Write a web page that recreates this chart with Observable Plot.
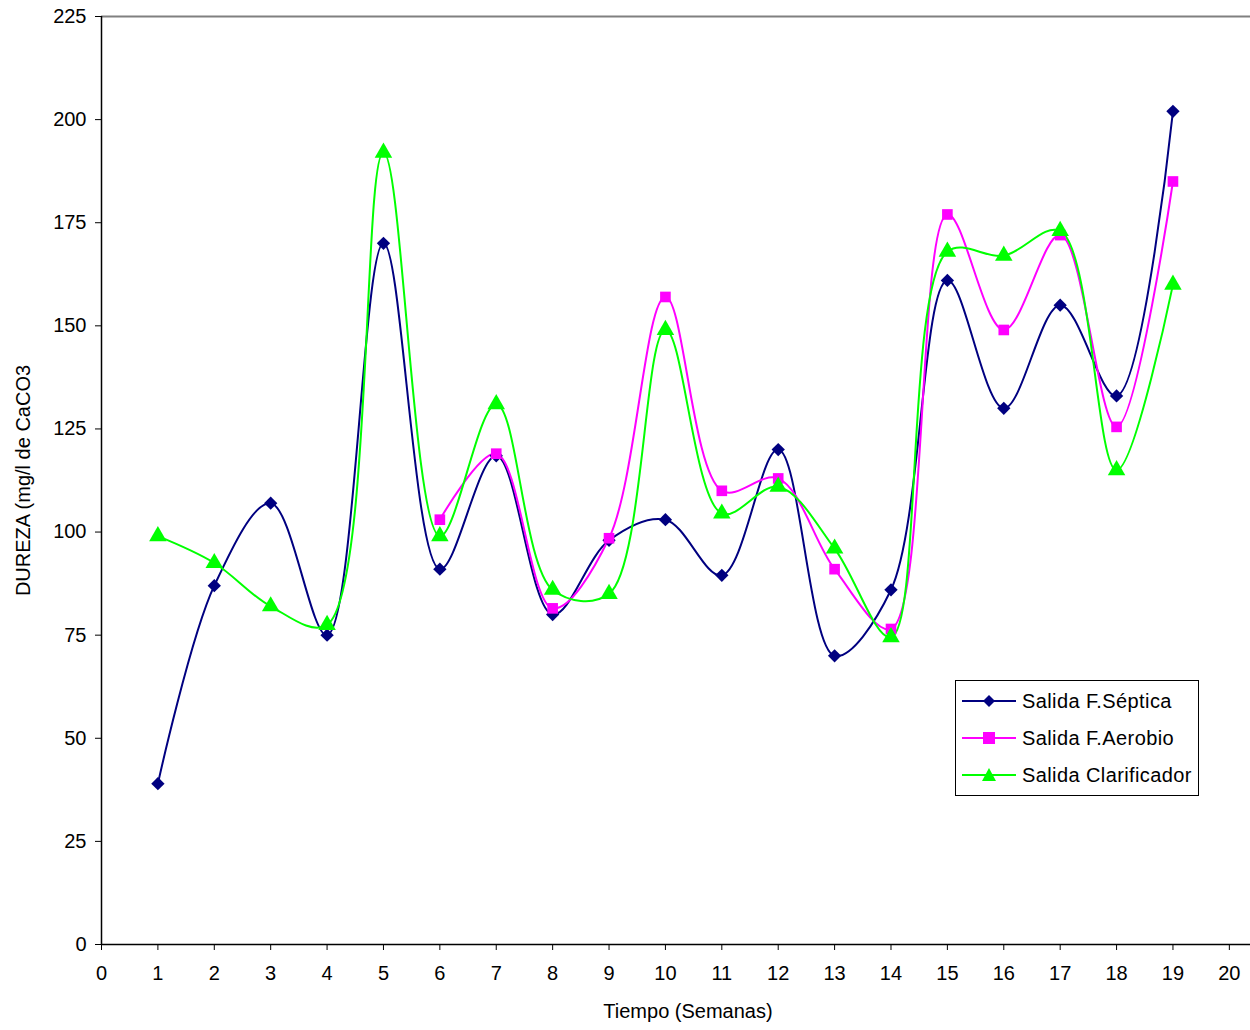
<!DOCTYPE html>
<html>
<head>
<meta charset="utf-8">
<script src="https://cdn.jsdelivr.net/npm/d3@7"></script>
<script src="https://cdn.jsdelivr.net/npm/@observablehq/plot@0.6"></script>
<style>
  body { margin: 0; background: #fff; font-family: "Liberation Sans", Arial, sans-serif; }
  #wrap { position: relative; width: 1250px; height: 1030px; }
  #legend { position: absolute; left: 955px; top: 680px; width: 242px; height: 114px;
            border: 1px solid #000; background: #fff; box-sizing: content-box; }
  .row { position: absolute; left: 6px; height: 24px; display: flex; align-items: center; font-size: 20px; letter-spacing: 0.4px; white-space: nowrap; }
  .row svg { margin-right: 6px; }
  #xlabel { position: absolute; left: 588px; width: 200px; top: 1000px; text-align: center; font-size: 20px; color: #000; }
</style>
</head>
<body>
<div id="wrap"></div>
<script>
const xTicks = d3.range(0, 21);
const yTicks = [0, 25, 50, 75, 100, 125, 150, 175, 200, 225];

const weeksAll = [1,2,3,4,5,6,7,8,9,10,11,12,13,14,15,16,17,18,19];
const septica = [39, 87, 107, 75, 170, 91, 118.5, 80, 98, 103, 89.5, 120, 70, 86, 161, 130, 155, 133, 202];
const weeksAerobio = [6,7,8,9,10,11,12,13,14,15,16,17,18,19];
const aerobio = [103, 119, 81.5, 98.5, 157, 110, 113, 91, 76.5, 177, 149, 172, 125.5, 185];
const clarificador = [99, 92.5, 82, 77.5, 192, 99, 131, 86, 85, 149, 104.5, 111, 96, 74.5, 168, 167, 173, 115, 160];

const seriesNames = ["Salida F.Séptica", "Salida F.Aerobio", "Salida Clarificador"];
const seriesColors = ["#000080", "#FF00FF", "#00FF00"];
const seriesSymbols = ["diamond2", "square", "triangle"];

const dSeptica = weeksAll.map((w, i) => ({x: w, y: septica[i]}));
const dAerobio = weeksAerobio.map((w, i) => ({x: w, y: aerobio[i]}));
const dClar = weeksAll.map((w, i) => ({x: w, y: clarificador[i]}));

const lineOpts = (c) => ({x: "x", y: "y", stroke: c, strokeWidth: 2, curve: "catmull-rom"});

const chart = Plot.plot({
  width: 1250, height: 1030,
  marginLeft: 101, marginRight: 0, marginTop: 16, marginBottom: 86,
  style: {fontFamily: "'Liberation Sans', Arial, sans-serif", fontSize: "20px", color: "#000", background: "#fff"},
  x: {domain: [0, 20.375]},
  y: {domain: [0, 225]},
  marks: [
    Plot.ruleY([225], {stroke: "#808080", strokeWidth: 2}),
    Plot.axisX({ticks: xTicks, tickSize: 6, tickPadding: 15, tickFormat: d => d, fontSize: 20, label: null}),
    Plot.axisY({ticks: yTicks, tickSize: 6, tickPadding: 9, fontSize: 20,
      label: "DUREZA (mg/l de CaCO3", labelAnchor: "center", labelArrow: "none", labelOffset: 86}),
    Plot.ruleY([0], {stroke: "#000", strokeWidth: 1.5}),
    Plot.ruleX([0], {stroke: "#000", strokeWidth: 1.5}),
    Plot.line(dSeptica, lineOpts(seriesColors[0])),
    Plot.line(dAerobio, lineOpts(seriesColors[1])),
    Plot.line(dClar, lineOpts(seriesColors[2])),
    Plot.dot(dSeptica, {x: "x", y: "y", symbol: seriesSymbols[0], fill: seriesColors[0], r: 6}),
    Plot.dot(dAerobio, {x: "x", y: "y", symbol: seriesSymbols[1], fill: seriesColors[1], r: 6}),
    Plot.dot(dClar, {x: "x", y: "y", symbol: seriesSymbols[2], fill: seriesColors[2], r: 6.5})
  ]
});

const wrap = document.getElementById("wrap");
wrap.appendChild(chart);

const xlabel = document.createElement("div");
xlabel.id = "xlabel";
xlabel.textContent = "Tiempo (Semanas)";
wrap.appendChild(xlabel);

// legend
const legend = document.createElement("div");
legend.id = "legend";
const shapes = [
  '<path d="M27,6 L33,12 L27,18 L21,12 Z" fill="#000080"/>',
  '<rect x="21" y="6" width="12" height="12" fill="#FF00FF"/>',
  '<path d="M27,5 L34,18 L20,18 Z" fill="#00FF00"/>'
];
seriesNames.forEach((name, i) => {
  const row = document.createElement("div");
  row.className = "row";
  row.style.top = (8 + i * 37) + "px";
  row.innerHTML = `<svg width="54" height="24"><line x1="0" x2="54" y1="12" y2="12" stroke="${seriesColors[i]}" stroke-width="2"/>${shapes[i]}</svg><span>${name}</span>`;
  legend.appendChild(row);
});
wrap.appendChild(legend);
</script>
</body>
</html>
